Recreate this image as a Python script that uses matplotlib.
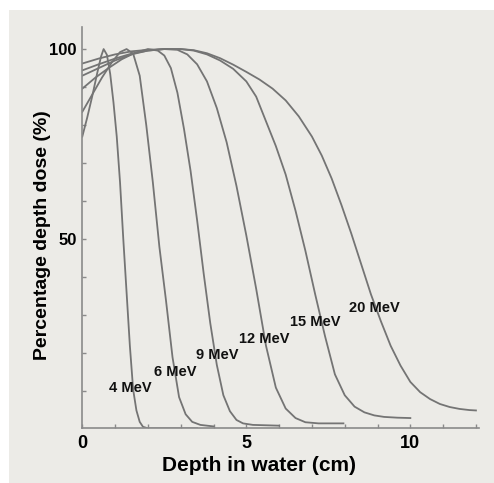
import numpy as np
from matplotlib import pyplot as plt
from matplotlib.patches import Rectangle
from matplotlib.ticker import MultipleLocator

# depth (cm) and percentage depth dose
depth4 = [0, 0.15, 0.3, 0.45, 0.57, 0.65, 0.75, 0.85, 0.95, 1.05, 1.15, 1.25, 1.35, 1.45, 1.55, 1.65, 1.75, 1.85, 2.0, 3.5]
dose4 = [77, 82, 87.5, 93.5, 98, 100, 98.5, 93.5, 86, 77, 65, 50, 36, 22, 10.5, 5, 2, 0.7, 0.3, 0.3]

depth6 = [0, 0.3, 0.6, 0.9, 1.15, 1.35, 1.55, 1.75, 1.95, 2.15, 2.35, 2.55, 2.75, 2.95, 3.15, 3.35, 3.6, 4.0]
dose6 = [83.5, 88, 92.5, 96.5, 99.2, 100, 98.8, 93, 80, 65, 48, 34, 19, 8.5, 4, 2, 1.2, 0.8]

depth9 = [0, 0.4, 0.8, 1.2, 1.6, 2.0, 2.3, 2.5, 2.7, 2.9, 3.1, 3.3, 3.5, 3.7, 3.9, 4.1, 4.3, 4.5, 4.7, 4.9, 5.2, 6.0]
dose9 = [89.6, 92.5, 95, 97.3, 99, 100, 99.6, 98.3, 95, 88.5, 79, 68, 55, 41, 28, 17, 9, 4.8, 2.5, 1.6, 1.2, 1.0]

depth12 = [0, 0.5, 1, 1.5, 2, 2.5, 2.9, 3.2, 3.5, 3.8, 4.1, 4.4, 4.7, 5.0, 5.3, 5.6, 5.9, 6.2, 6.5, 6.8, 7.2, 7.96]
dose12 = [93, 95, 97, 98.6, 99.6, 100, 99.8, 98.6, 96, 91.5, 84.5, 75.5, 64, 51, 37, 22, 11, 5.5, 3, 1.9, 1.6, 1.6]

depth15 = [0, 0.5, 1, 1.5, 2, 2.5, 3, 3.4, 3.8, 4.2, 4.6, 5.0, 5.3, 5.6, 5.9, 6.2, 6.5, 6.8, 7.1, 7.4, 7.7,
           8.0, 8.3, 8.6, 8.9, 9.2, 9.6, 10.0]
dose15 = [94.4, 96, 97.5, 98.8, 99.6, 100, 100, 99.6, 98.6, 97, 94.8, 91.5, 87.5, 81, 74.5, 67, 57.5, 47, 35.5,
          24.5, 14.5, 9, 6, 4.5, 3.7, 3.3, 3.1, 3.0]

depth20 = [0, 0.5, 1, 1.5, 2, 2.5, 3, 3.4, 3.8, 4.2, 4.6, 5.0, 5.4, 5.8, 6.2, 6.6, 7.0, 7.3, 7.6, 7.9, 8.2,
           8.5, 8.8, 9.1, 9.4, 9.7, 10.0, 10.3, 10.6, 10.9, 11.2, 11.5, 11.8, 12.0]
dose20 = [96.2, 97.5, 98.6, 99.4, 99.8, 100, 100, 99.7, 98.9, 97.6, 95.9, 94, 92, 89.6, 86.5, 82.3, 77, 72, 66,
          59, 51.5, 43.5, 35.5, 28.5, 22, 16.8, 12.5, 9.8, 8, 6.7, 5.9, 5.4, 5.1, 5.0]

labels = ['4 MeV', '6 MeV', '9 MeV', '12 MeV', '15 MeV', '20 MeV']
label_x = [0.80, 2.2, 3.48, 4.77, 6.34, 8.12]
label_y = [10.8, 15.0, 19.6, 23.7, 28.3, 32.0]

curves = [(depth4, dose4), (depth6, dose6), (depth9, dose9),
          (depth12, dose12), (depth15, dose15), (depth20, dose20)]

plt.rcParams['font.family'] = ['Liberation Sans', 'DejaVu Sans']
plt.rcParams['font.weight'] = 'bold'

bg = '#ecebe7'
lineColor = '#747474'
spineColor = '#8a8a8a'

fig = plt.figure(figsize=(4.94, 4.83), dpi=100)
fig.patch.set_facecolor('white')
fig.patches.append(Rectangle((9/494, 0), 1, 473/483, transform=fig.transFigure,
                             facecolor=bg, edgecolor='none', zorder=-10))

ax = fig.add_axes([0.1666, 0.1132, 0.8035, 0.8309])
ax.set_facecolor('none')

for d, p in curves:
	ax.plot(d, p, color=lineColor, lw=1.3, solid_joinstyle='round')

for t, x, y in zip(labels, label_x, label_y):
	ax.text(x, y, t, ha='left', va='center', fontsize=10.5, fontweight='bold', color='#111111')

ax.set_xlim(0, 12.1)
ax.set_ylim(0.3, 105.8)

ax.set_xticks([0, 5, 10])
ax.set_yticks([50, 100])
ax.xaxis.set_minor_locator(MultipleLocator(1))
ax.yaxis.set_minor_locator(MultipleLocator(10))
ax.tick_params(which='both', direction='in', length=3, width=1, color=spineColor)
ax.tick_params(axis='x', labelsize=13, pad=4.5)
ax.tick_params(axis='y', labelsize=12, pad=4)

for s in ['top', 'right']:
	ax.spines[s].set_visible(False)
for s in ['left', 'bottom']:
	ax.spines[s].set_color(spineColor)
	ax.spines[s].set_linewidth(1.2)

ax.set_xlabel('Depth in water (cm)', fontsize=15, fontweight='bold')
ax.xaxis.set_label_coords(0.445, -0.07)
ax.set_ylabel('Percentage depth dose (%)', fontsize=14, fontweight='bold')
ax.yaxis.set_label_coords(-0.079, 0.482)

fig.savefig('out.png', dpi=100, facecolor=fig.get_facecolor())
